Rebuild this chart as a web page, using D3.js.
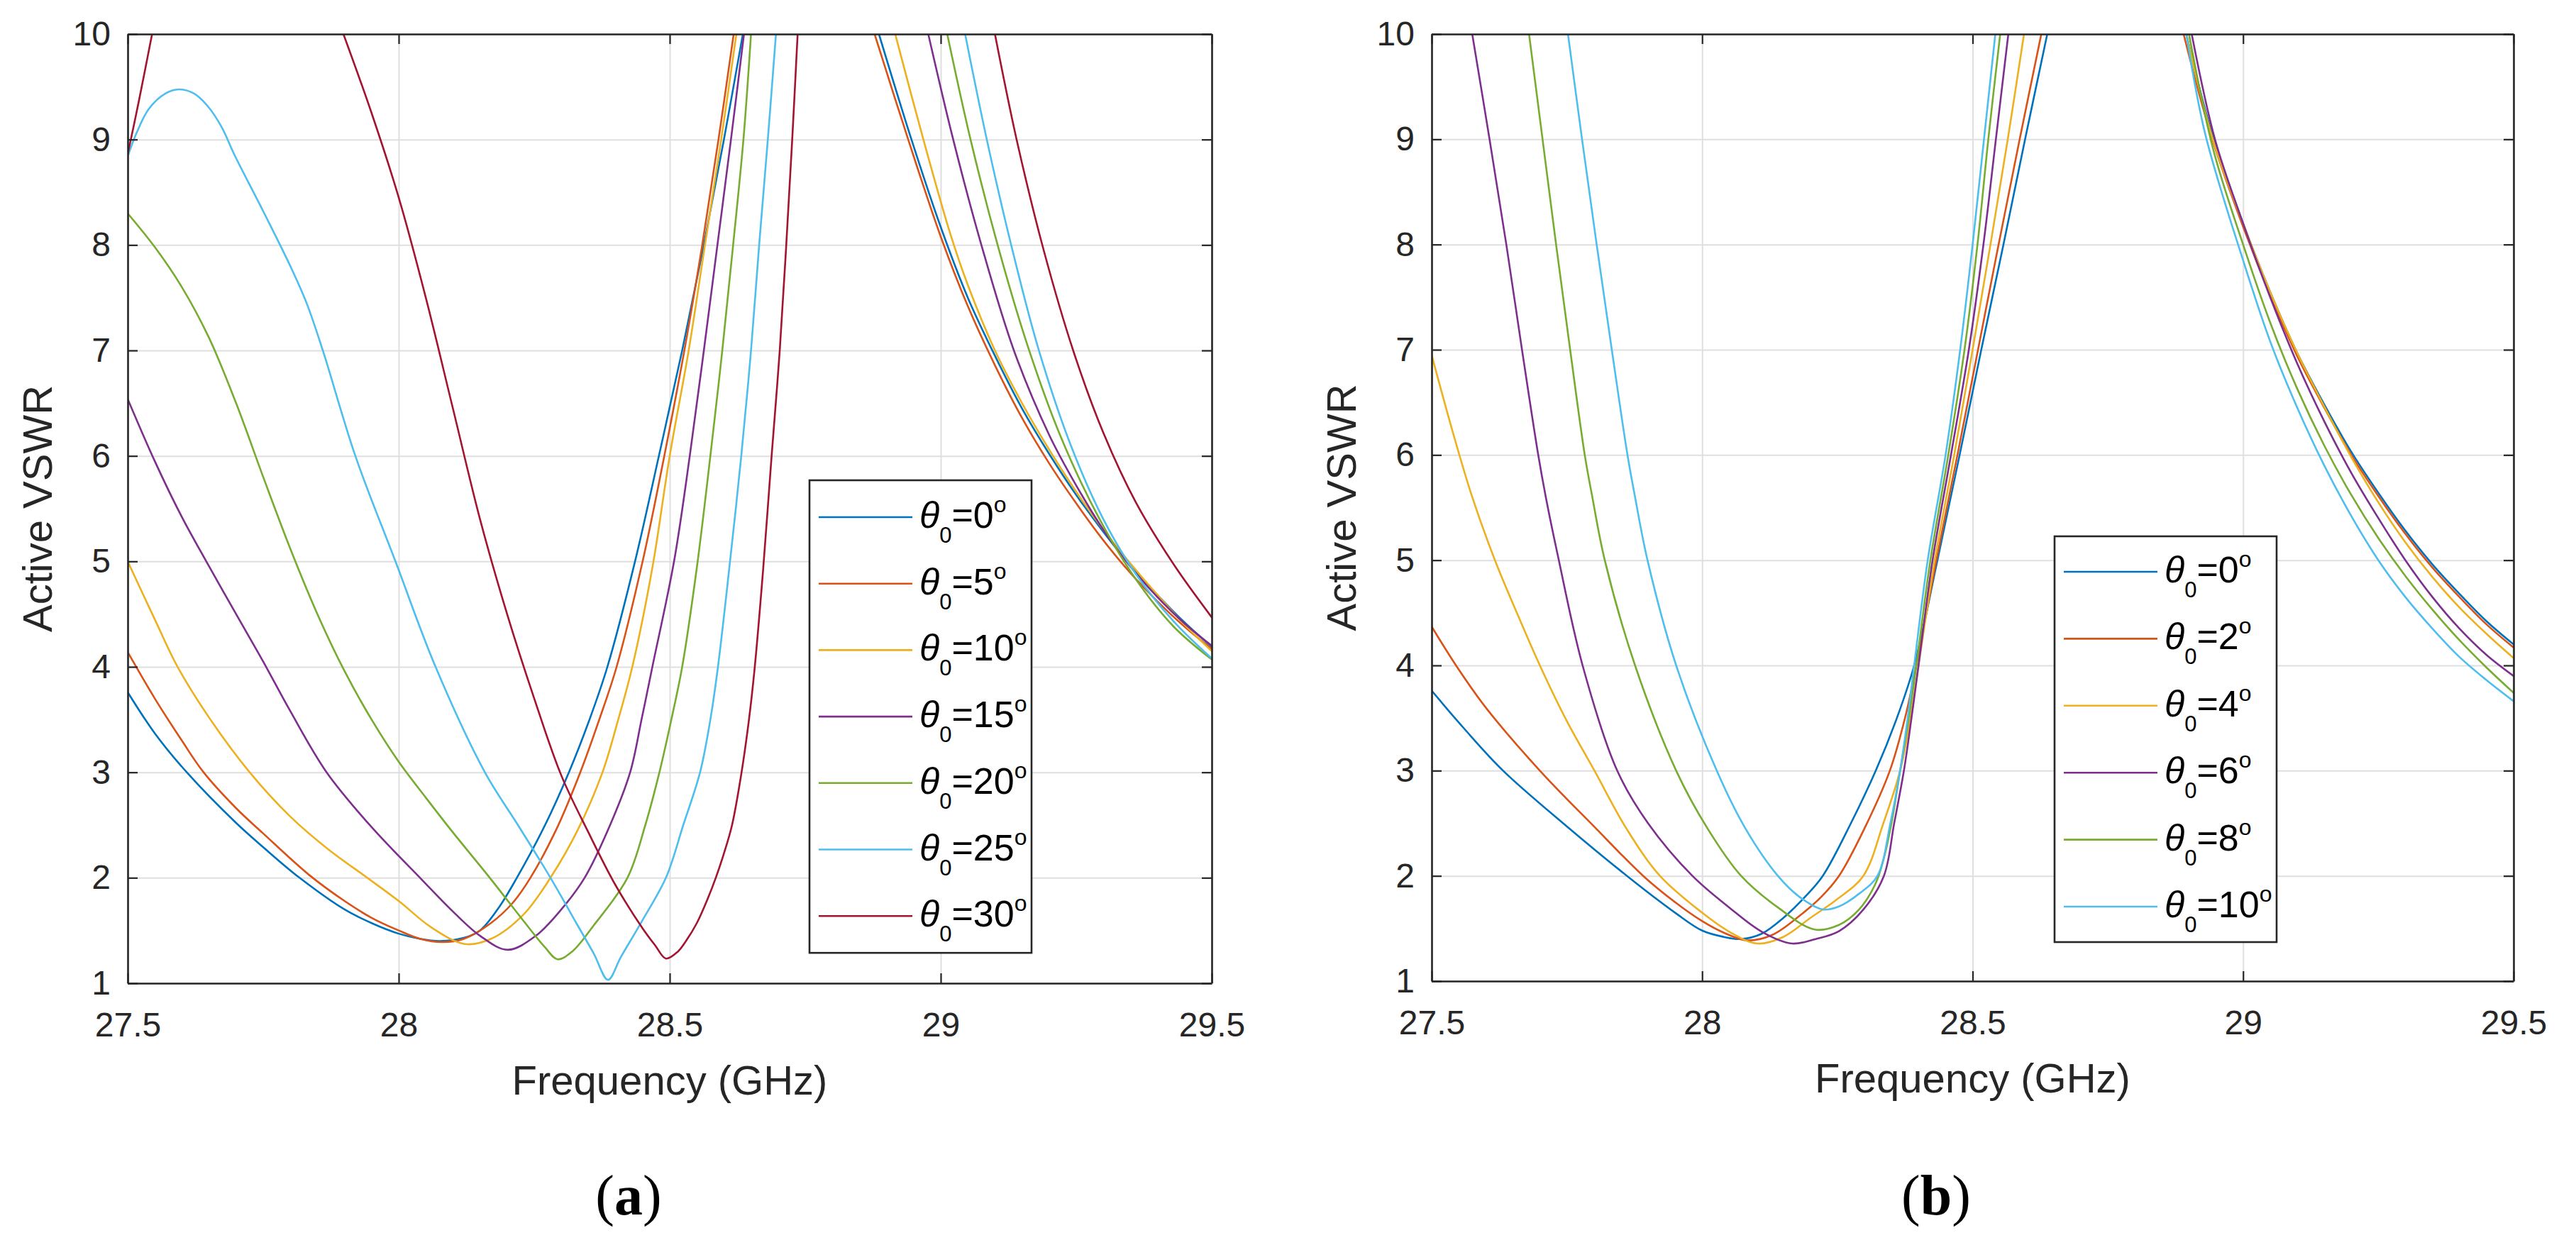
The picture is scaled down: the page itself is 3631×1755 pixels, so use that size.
<!DOCTYPE html>
<html>
<head>
<meta charset="utf-8">
<script src="https://cdn.jsdelivr.net/npm/d3@7"></script>
<style>
  html, body { margin: 0; padding: 0; background: #ffffff; }
  svg { display: block; }
</style>
</head>
<body>
<svg id="chart" width="3631" height="1755"></svg>
<script>
// ---------------- DATA ----------------
const freqTicks = [27.5, 28, 28.5, 29, 29.5];
const vswrTicks = [1, 2, 3, 4, 5, 6, 7, 8, 9, 10];
const seriesColors = ["#0072BD", "#D95319", "#EDB120", "#7E2F8E", "#77AC30", "#4DBEEE", "#A2142F"];
const anglesA = ["0", "5", "10", "15", "20", "25", "30"];
const anglesB = ["0", "2", "4", "6", "8", "10"];
const axisTitleX = "Frequency (GHz)";
const axisTitleY = "Active VSWR";

// Panel (a): [frequency GHz, active VSWR]; null = curve leaves the top of the plot (VSWR > 10)
const a_theta0 = [[27.5,3.76],[27.55,3.37],[27.609,3.0],[27.7,2.52],[27.75,2.29],[27.817,2.0],[27.9,1.7],[27.95,1.57],[28.0,1.47],[28.04,1.42],[28.076,1.40],[28.12,1.43],[28.15,1.5],[28.185,1.72],[28.218,2.0],[28.27,2.5],[28.314,3.0],[28.352,3.5],[28.385,4.0],[28.436,5.0],[28.48,6.0],[28.523,7.0],[28.563,8.0],[28.6,9.0],[28.635,10.0],
  null,[28.886,10],[28.946,9.0],[29.0,8.17],[29.05,7.5],[29.1,6.95],[29.15,6.45],[29.2,6.02],[29.25,5.63],[29.3,5.28],[29.35,4.96],[29.4,4.68],[29.45,4.42],[29.5,4.19]];
const a_theta5 = [[27.5,4.14],[27.55,3.7],[27.6,3.3],[27.64,3.0],[27.7,2.66],[27.75,2.42],[27.834,2.03],[27.9,1.78],[27.95,1.62],[28.0,1.5],[28.04,1.42],[28.08,1.39],[28.12,1.42],[28.17,1.57],[28.21,1.76],[28.243,2.0],[28.29,2.45],[28.335,3.0],[28.37,3.5],[28.402,4.0],[28.45,5.0],[28.49,6.0],[28.527,7.0],[28.56,8.0],[28.59,9.0],[28.618,10],
  null,[28.878,10],[28.94,9.0],[29.0,8.08],[29.05,7.42],[29.1,6.86],[29.15,6.36],[29.2,5.93],[29.25,5.55],[29.3,5.2],[29.35,4.89],[29.4,4.62],[29.45,4.38],[29.5,4.17]];
const a_theta10 = [[27.5,5.0],[27.55,4.45],[27.592,4.0],[27.65,3.52],[27.725,3.0],[27.8,2.58],[27.87,2.27],[27.942,2.0],[28.0,1.78],[28.06,1.53],[28.122,1.372],[28.17,1.42],[28.23,1.65],[28.28,2.0],[28.33,2.45],[28.376,3.0],[28.405,3.5],[28.431,4.0],[28.468,4.94],[28.5,6.0],[28.535,7.0],[28.565,8.0],[28.595,9.0],[28.623,10],
  null,[28.916,10],[28.968,9.0],[29.018,8.1],[29.05,7.62],[29.1,7.0],[29.15,6.5],[29.2,6.06],[29.25,5.66],[29.3,5.3],[29.35,4.98],[29.4,4.68],[29.45,4.4],[29.5,4.15]];
const a_theta15 = [[27.5,6.54],[27.55,5.95],[27.6,5.42],[27.645,5.0],[27.7,4.5],[27.75,4.05],[27.8,3.58],[27.867,3.0],[27.95,2.48],[28.043,1.98],[28.1,1.68],[28.15,1.45],[28.201,1.317],[28.253,1.45],[28.3,1.7],[28.343,2.0],[28.39,2.5],[28.427,3.0],[28.448,3.5],[28.468,4.0],[28.508,5.0],[28.537,6.0],[28.563,7.0],[28.588,8.0],[28.613,9.0],[28.637,10],
  null,[28.977,10],[29.023,9.0],[29.075,8.0],[29.135,7.0],[29.2,6.2],[29.25,5.72],[29.3,5.3],[29.35,4.95],[29.4,4.66],[29.45,4.41],[29.5,4.2]];
const a_theta20 = [[27.5,8.3],[27.55,7.98],[27.6,7.6],[27.65,7.12],[27.7,6.5],[27.75,5.8],[27.8,5.12],[27.85,4.5],[27.9,3.96],[27.95,3.5],[28.0,3.1],[28.05,2.76],[28.1,2.43],[28.168,2.0],[28.235,1.56],[28.27,1.34],[28.293,1.227],[28.32,1.3],[28.36,1.55],[28.422,2.0],[28.455,2.5],[28.481,3.0],[28.503,3.5],[28.523,4.0],[28.55,4.94],[28.575,6.0],[28.597,7.0],[28.617,8.0],[28.636,9.0],[28.65,10],
  null,[29.012,10],[29.055,9.0],[29.105,8.0],[29.16,7.05],[29.22,6.2],[29.29,5.43],[29.36,4.83],[29.43,4.38],[29.5,4.07]];
const a_theta25 = [[27.5,8.84],[27.517,9.07],[27.539,9.29],[27.57,9.437],[27.594,9.475],[27.622,9.437],[27.648,9.314],[27.674,9.112],[27.696,8.865],[27.75,8.32],[27.8,7.8],[27.83,7.45],[27.86,7.0],[27.92,6.0],[27.994,5.0],[28.068,4.0],[28.159,3.0],[28.22,2.5],[28.28,2.0],[28.33,1.55],[28.36,1.28],[28.386,1.033],[28.41,1.25],[28.45,1.6],[28.493,2.0],[28.525,2.5],[28.556,3.0],[28.575,3.5],[28.589,4.0],[28.61,4.94],[28.632,6.0],[28.65,7.0],[28.665,8.0],[28.681,9.0],[28.696,10],
  null,[29.045,10],[29.085,9.0],[29.13,8.0],[29.18,7.02],[29.24,6.1],[29.3,5.4],[29.36,4.88],[29.43,4.43],[29.5,4.08]];
const a_theta30 = [[27.5,8.86],[27.52,9.35],[27.545,10],
  null,[27.898,10],[27.95,9.25],[28.0,8.45],[28.05,7.5],[28.1,6.45],[28.15,5.4],[28.2,4.5],[28.25,3.7],[28.3,2.97],[28.35,2.43],[28.4,1.93],[28.45,1.52],[28.473,1.36],[28.493,1.234],[28.515,1.3],[28.53,1.4],[28.55,1.57],[28.57,1.8],[28.585,2.0],[28.6,2.23],[28.615,2.5],[28.631,2.95],[28.645,3.45],[28.656,3.95],[28.672,4.9],[28.688,6.0],[28.703,7.0],[28.715,8.0],[28.726,9.0],[28.736,10],
  null,[29.1,10],[29.14,9.0],[29.19,7.95],[29.245,6.99],[29.3,6.22],[29.36,5.56],[29.43,4.97],[29.5,4.47]];

// Panel (b)
const b_theta0 = [[27.5,3.76],[27.56,3.4],[27.632,3.0],[27.75,2.47],[27.861,2.0],[27.95,1.65],[28.0,1.48],[28.04,1.42],[28.072,1.40],[28.11,1.45],[28.15,1.6],[28.19,1.8],[28.223,2.0],[28.275,2.5],[28.321,3.0],[28.36,3.5],[28.392,4.0],[28.435,5.0],[28.476,6.0],[28.516,7.0],[28.557,8.0],[28.597,9.0],[28.638,10],
  null,[28.895,10],[28.94,9.1],[29.0,8.2],[29.05,7.55],[29.1,6.97],[29.15,6.48],[29.2,6.03],[29.25,5.64],[29.3,5.28],[29.35,4.96],[29.4,4.68],[29.45,4.42],[29.5,4.2]];
const b_theta2 = [[27.5,4.37],[27.545,4.0],[27.6,3.6],[27.7,3.0],[27.8,2.47],[27.891,2.0],[27.95,1.75],[28.0,1.57],[28.04,1.46],[28.083,1.387],[28.13,1.44],[28.18,1.62],[28.22,1.8],[28.253,2.0],[28.3,2.45],[28.347,3.0],[28.375,3.5],[28.396,4.0],[28.433,5.0],[28.472,6.0],[28.51,7.0],[28.548,8.0],[28.587,9.0],[28.627,10],
  null,[28.89,10],[28.94,9.05],[29.0,8.17],[29.05,7.52],[29.1,6.94],[29.15,6.45],[29.2,6.0],[29.25,5.61],[29.3,5.25],[29.35,4.93],[29.4,4.65],[29.45,4.39],[29.5,4.17]];
const b_theta4 = [[27.5,6.95],[27.54,6.2],[27.575,5.6],[27.617,5.0],[27.66,4.47],[27.7,4.0],[27.75,3.47],[27.801,3.0],[27.86,2.45],[27.922,2.0],[28.0,1.65],[28.05,1.47],[28.102,1.357],[28.15,1.42],[28.2,1.6],[28.25,1.78],[28.298,2.0],[28.335,2.5],[28.366,3.0],[28.385,3.5],[28.4,4.0],[28.43,5.0],[28.466,6.0],[28.5,7.0],[28.533,8.0],[28.565,9.0],[28.595,10],
  null,[28.895,10],[28.944,9.0],[29.0,8.2],[29.05,7.55],[29.1,6.97],[29.15,6.46],[29.2,5.98],[29.25,5.55],[29.3,5.17],[29.35,4.84],[29.4,4.55],[29.45,4.3],[29.5,4.07]];
const b_theta6 = [[27.575,10],[27.607,9],[27.638,8],[27.667,7],[27.697,6],[27.711,5.6],[27.733,5.05],[27.779,4.0],[27.843,3.0],[27.9,2.5],[27.982,2.0],[28.05,1.7],[28.11,1.47],[28.166,1.357],[28.21,1.4],[28.253,1.475],[28.298,1.68],[28.336,2.0],[28.355,2.5],[28.373,3.0],[28.387,3.5],[28.4,4.0],[28.426,5.0],[28.46,6.0],[28.493,7.0],[28.52,8.0],[28.543,9.0],[28.566,10],
  null,[28.905,10],[28.948,9.0],[29.0,8.2],[29.05,7.5],[29.1,6.87],[29.15,6.32],[29.2,5.83],[29.25,5.4],[29.3,5.0],[29.35,4.65],[29.4,4.35],[29.45,4.1],[29.5,3.9]];
const b_theta8 = [[27.68,10],[27.705,9],[27.73,8],[27.756,7],[27.783,6],[27.797,5.6],[27.82,5.0],[27.876,4.0],[27.952,3.0],[28.01,2.45],[28.072,2.0],[28.14,1.7],[28.208,1.49],[28.253,1.534],[28.29,1.68],[28.32,1.92],[28.335,2.15],[28.35,2.5],[28.366,3.0],[28.382,3.5],[28.396,4.0],[28.422,5.0],[28.455,6.0],[28.485,7.0],[28.509,8.0],[28.529,9.0],[28.551,10],
  null,[28.9,10],[28.945,8.9],[29.0,8.0],[29.05,7.26],[29.1,6.63],[29.15,6.09],[29.2,5.62],[29.25,5.21],[29.3,4.85],[29.35,4.53],[29.4,4.24],[29.45,3.98],[29.5,3.74]];
const b_theta10 = [[27.752,10],[27.778,9],[27.805,8],[27.833,7],[27.862,6],[27.876,5.6],[27.899,5.0],[27.952,4.0],[28.027,3.0],[28.08,2.45],[28.14,2.0],[28.18,1.8],[28.223,1.681],[28.253,1.71],[28.29,1.83],[28.324,2.0],[28.348,2.5],[28.366,3.0],[28.38,3.5],[28.392,4.0],[28.417,5.0],[28.45,6.0],[28.477,7.0],[28.5,8.0],[28.521,9.0],[28.542,10],
  null,[28.895,10],[28.93,9.05],[29.0,7.85],[29.05,7.08],[29.1,6.45],[29.15,5.9],[29.2,5.42],[29.25,5.0],[29.3,4.65],[29.35,4.35],[29.4,4.08],[29.45,3.86],[29.5,3.66]];

const seriesA = [a_theta0, a_theta5, a_theta10, a_theta15, a_theta20, a_theta25, a_theta30];
const seriesB = [b_theta0, b_theta2, b_theta4, b_theta6, b_theta8, b_theta10];

// ---------------- DRAWING ----------------
const FONT = "'Liberation Sans', Arial, Helvetica, sans-serif";
const SERIF = "'Liberation Serif', 'Times New Roman', serif";
const INK = "#262626";
const GRID = "#dfdfdf";
const svg = d3.select("#chart");
svg.append("rect").attr("width", 3631).attr("height", 1755).attr("fill", "#ffffff");
const defs = svg.append("defs");

function drawPanel(cfg) {
  const { id, left, right, top, bottom, series, angles, legend, caption, captionX } = cfg;
  const x = d3.scaleLinear().domain([27.5, 29.5]).range([left, right]);
  const y = d3.scaleLinear().domain([1, 10]).range([bottom, top]);
  const g = svg.append("g").attr("id", id);

  // grid
  g.append("g").attr("transform", `translate(0,${bottom})`)
    .call(d3.axisBottom(x).tickValues(freqTicks).tickSize(-(bottom - top)).tickFormat(""))
    .call(s => s.select(".domain").remove())
    .call(s => s.selectAll("line").attr("stroke", GRID).attr("stroke-width", 2));
  g.append("g").attr("transform", `translate(${left},0)`)
    .call(d3.axisLeft(y).tickValues(vswrTicks).tickSize(-(right - left)).tickFormat(""))
    .call(s => s.select(".domain").remove())
    .call(s => s.selectAll("line").attr("stroke", GRID).attr("stroke-width", 2));

  // clip
  defs.append("clipPath").attr("id", "clip-" + id)
    .append("rect").attr("x", left).attr("y", top).attr("width", right - left).attr("height", bottom - top);

  const line = d3.line()
    .defined(d => d !== null)
    .x(d => x(d[0])).y(d => y(d[1]))
    .curve(d3.curveCatmullRom.alpha(0.5));

  const lines = g.append("g").attr("clip-path", `url(#clip-${id})`);
  series.forEach((s, i) => {
    lines.append("path")
      .attr("d", line(s))
      .attr("fill", "none")
      .attr("stroke", seriesColors[i])
      .attr("stroke-width", 2.6)
      .attr("stroke-linejoin", "round")
      .attr("stroke-linecap", "round");
  });

  // axes (box with inward ticks on all sides)
  const styleAxis = s => {
    s.select(".domain").attr("stroke", INK).attr("stroke-width", 2.6);
    s.selectAll(".tick line").attr("stroke", INK).attr("stroke-width", 2.2);
    s.selectAll("text").attr("fill", INK).attr("font-family", FONT).attr("font-size", 48);
  };
  g.append("g").attr("transform", `translate(0,${bottom})`)
    .call(d3.axisBottom(x).tickValues(freqTicks).tickSize(-14).tickSizeOuter(0).tickPadding(41).tickFormat(d => String(d)))
    .call(styleAxis);
  g.append("g").attr("transform", `translate(0,${top})`)
    .call(d3.axisTop(x).tickValues(freqTicks).tickSize(-14).tickSizeOuter(0).tickFormat(""))
    .call(styleAxis);
  g.append("g").attr("transform", `translate(${left},0)`)
    .call(d3.axisLeft(y).tickValues(vswrTicks).tickSize(-14).tickSizeOuter(0).tickPadding(24).tickFormat(d => String(d)))
    .call(styleAxis);
  g.append("g").attr("transform", `translate(${right},0)`)
    .call(d3.axisRight(y).tickValues(vswrTicks).tickSize(-14).tickSizeOuter(0).tickFormat(""))
    .call(styleAxis);

  // axis titles
  g.append("text")
    .attr("x", (left + right) / 2).attr("y", bottom + 157)
    .attr("text-anchor", "middle")
    .attr("font-family", FONT).attr("font-size", 58).attr("fill", INK)
    .text(axisTitleX);
  g.append("text")
    .attr("transform", `translate(${left - 107},${(top + bottom) / 2}) rotate(-90)`)
    .attr("text-anchor", "middle")
    .attr("font-family", FONT).attr("font-size", 58).attr("fill", INK)
    .text(axisTitleY);

  // legend
  const lg = g.append("g");
  const n = series.length;
  const rowGap = legend.gap;
  const boxH = legend.pad * 2 + (n - 1) * rowGap;
  lg.append("rect")
    .attr("x", legend.x).attr("y", legend.y)
    .attr("width", legend.w).attr("height", boxH)
    .attr("fill", "#ffffff").attr("stroke", INK).attr("stroke-width", 2.6);
  angles.forEach((a, i) => {
    const ry = legend.y + legend.pad + i * rowGap;
    lg.append("line")
      .attr("x1", legend.x + 13).attr("x2", legend.x + 145)
      .attr("y1", ry).attr("y2", ry)
      .attr("stroke", seriesColors[i]).attr("stroke-width", 2.6);
    const t = lg.append("text")
      .attr("x", legend.x + 155).attr("y", ry + 15)
      .attr("font-family", FONT).attr("font-size", 52).attr("fill", "#000000");
    t.append("tspan").attr("font-style", "italic").text("θ");
    t.append("tspan").attr("font-size", 31).attr("dy", 21).text("0");
    t.append("tspan").attr("dy", -21).text("=" + a);
    t.append("tspan").attr("font-size", 32).attr("dy", -22).text("o");
  });

  // caption
  const c = svg.append("text")
    .attr("x", captionX).attr("y", 1712)
    .attr("text-anchor", "middle")
    .attr("font-family", SERIF).attr("font-size", 80).attr("fill", "#000000");
  c.append("tspan").text("(");
  c.append("tspan").attr("font-weight", "bold").text(caption);
  c.append("tspan").text(")");
}

drawPanel({
  id: "pa", left: 180, right: 1708, top: 48, bottom: 1386,
  series: seriesA, angles: anglesA,
  legend: { x: 1141, y: 677, w: 313, pad: 52, gap: 93.7 },
  caption: "a", captionX: 886
});
drawPanel({
  id: "pb", left: 2018, right: 3543, top: 48, bottom: 1383,
  series: seriesB, angles: anglesB,
  legend: { x: 2896, y: 756, w: 313, pad: 50, gap: 94.4 },
  caption: "b", captionX: 2729
});
</script>
</body>
</html>
